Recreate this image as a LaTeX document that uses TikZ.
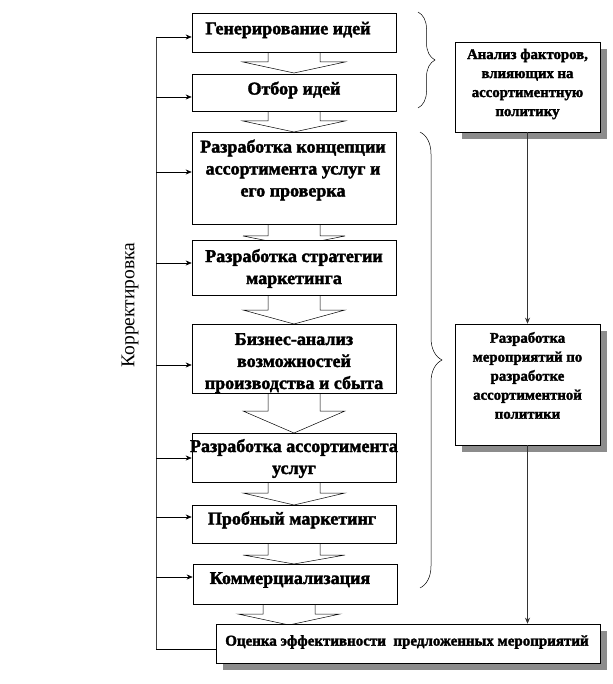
\documentclass[tikz,border=0pt]{standalone}
\usepackage{fontspec}
\setmainfont{Liberation Serif}[BoldFeatures={FakeBold=2}]
\usetikzlibrary{arrows.meta,shadows,decorations.pathreplacing}
\tikzset{
  mbox/.style={draw, fill=white, line width=0.6pt, minimum width=204pt, inner sep=0pt},
  mtext/.style={align=center, inner sep=0pt, font=\bfseries\fontsize{18}{22}\selectfont},
  rbox/.style={draw, fill=white, line width=0.6pt, minimum width=145pt, inner sep=0pt,
    drop shadow={shadow xshift=7pt, shadow yshift=-7pt, fill=black!45, opacity=1}},
  rtext/.style={align=center, inner sep=0pt, font=\bfseries\fontsize{14.8}{19}\selectfont},
  barrow/.style={draw, fill=white, line width=0.5pt},
  fbline/.style={line width=0.6pt, black!75},
  fbarrow/.style={line width=0.6pt, -{Stealth[length=6pt,width=5pt]}},
  bracec/.style={line width=0.5pt, decorate},
}
\begin{document}
\begin{tikzpicture}[x=1pt,y=-1pt]
\useasboundingbox (0,0) rectangle (612,684);
\fill[white] (0,0) rectangle (612,684);
% block arrows between main boxes
\foreach \b/\w/\t/\c in {52/62/73/294, 111/121/132/294, 224/236/246/294, 295/310/324/294, 393/411/433/294, 482/493/505/294, 543/555/564/294, 604/614/625/289}{
  \draw[barrow] (\c-26,\b) -- (\c-26,\w) -- (\c-51,\w) -- (\c,\t) -- (\c+51,\w) -- (\c+26,\w) -- (\c+26,\b);
}
% main boxes
\node[mbox, minimum height=39pt] (b1) at (294,32.5) {};
\node[mbox, minimum height=37pt] (b2) at (294,92.5) {};
\node[mbox, minimum height=92pt] (b3) at (294,178) {};
\node[mbox, minimum height=55pt] (b4) at (294,267.5) {};
\node[mbox, minimum height=69pt] (b5) at (294,358.5) {};
\node[mbox, minimum height=49pt] (b6) at (294,457.5) {};
\node[mbox, minimum height=38pt] (b7) at (294,524) {};
\node[mbox, minimum height=40pt] (b8) at (295,584) {};
\node[mtext] (t1) at (288,30) {Генерирование идей};
\node[mtext] (t2) at (294,90) {Отбор идей};
\node[mtext] (t3) at (293,170) {Разработка концепции\\ассортимента услуг и\\его проверка};
\node[mtext] (t4) at (294,268.5) {Разработка стратегии\\маркетинга};
\node[mtext] (t5) at (294,363) {Бизнес-анализ\\возможностей\\производства и сбыта};
\node[mtext] (t6) at (294,458.5) {Разработка ассортимента\\услуг};
\node[mtext] (t7) at (292,520) {Пробный маркетинг};
\node[mtext] (t8) at (290,580) {Коммерциализация};
% right boxes
\node[rbox, minimum height=90pt] (A) at (527.5,87) {};
\node[rtext] (tA) at (527.5,84) {Анализ факторов,\\влияющих на\\ассортиментную\\политику};
\node[rbox, minimum height=121pt] (B) at (527.5,384.5) {};
\node[rtext] (tB) at (527.5,375.5) {Разработка\\мероприятий по\\разработке\\ассортиментной\\политики};
\node[rbox, minimum width=384pt, minimum height=39pt] (E) at (408,643.5) {};
\node[rtext, font=\bfseries\fontsize{15}{19}\selectfont] (tE) at (407,642) {Оценка эффективности\ \ предложенных мероприятий};
% right connectors
\draw[fbarrow, black!80] (A.south) -- (B.north);
\draw[fbarrow, black!80] (B.south) -- (B.south |- E.north);
% feedback
\coordinate (f1) at (156,37);
\coordinate (f2) at (156,97);
\coordinate (f3) at (156,172);
\coordinate (f4) at (156,263);
\coordinate (f5) at (156,365);
\coordinate (f6) at (156,458);
\coordinate (f7) at (156,517);
\coordinate (f8) at (156,577);
\coordinate (f9) at (156,649);
\draw[fbline] (f1) -- (f9);
\draw[line width=0.6pt] (f9) -- (f9 -| E.west);
\foreach \i in {1,...,8}{
  \draw[fbarrow] (f\i) -- (f\i -| b\i.west);
}
\node[rotate=90, font=\fontsize{19.5}{22}\selectfont, inner sep=0pt] (K) at (130,305) {Корректировка};
% braces
\draw[bracec, decoration={brace, amplitude=17pt}] (418,12) -- (418,108);
\draw[bracec, decoration={brace, amplitude=22pt}] (420,132) -- (420,588);
\end{tikzpicture}
\end{document}
